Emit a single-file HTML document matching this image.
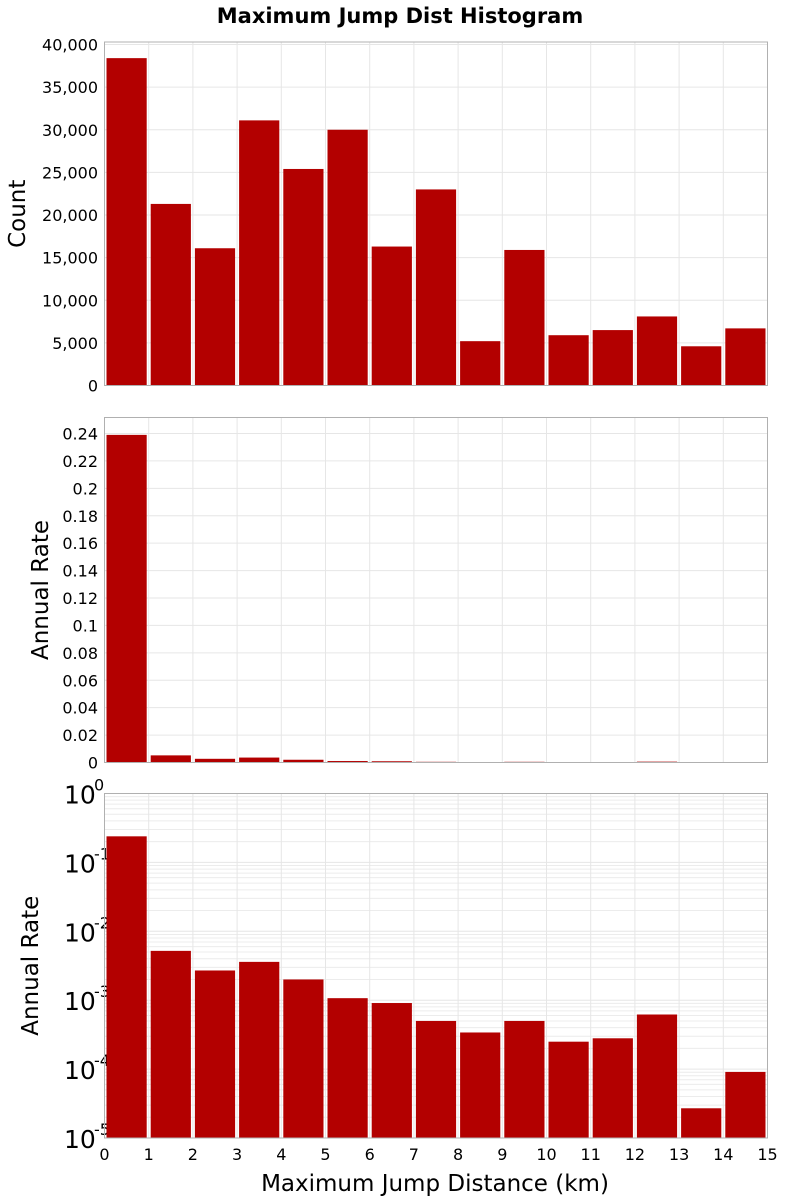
<!DOCTYPE html>
<html><head><meta charset="utf-8"><style>
body{margin:0;background:#fff}
svg{display:block;font-family:"DejaVu Sans","Liberation Sans",sans-serif}
</style></head><body>
<svg id="c" width="800" height="1200">
<text x="400" y="23" text-anchor="middle" font-size="21" font-weight="bold">Maximum Jump Dist Histogram</text>
</svg>
<script>
const bins = [0,1,2,3,4,5,6,7,8,9,10,11,12,13,14];
const counts = [38400,21300,16100,31100,25400,30000,16300,23000,5200,15900,5900,6500,8100,4600,6700];
const rates = [0.239,0.0052,0.0027,0.0036,0.002,0.00107,0.00091,0.0005,0.00034,0.0005,0.00025,0.00028,0.00062,0.000027,0.000091];
const countTicks = [0,5000,10000,15000,20000,25000,30000,35000,40000];
const rateTicks = [0,0.02,0.04,0.06,0.08,0.1,0.12,0.14,0.16,0.18,0.2,0.22,0.24];
const logTicks = [0,-1,-2,-3,-4,-5];
const xTicks = [0,1,2,3,4,5,6,7,8,9,10,11,12,13,14,15];

const NS="http://www.w3.org/2000/svg", svg=document.getElementById('c');
const X0=104.5,X1=767.5;
const xs=v=>X0+(v/15)*(X1-X0);
function el(t,a,p){const e=document.createElementNS(NS,t);for(const k in a)e.setAttribute(k,a[k]);(p||svg).appendChild(e);return e;}

function panel(name,top,bot,yscale,ticks,labelFn,vals,ylab,minor){
  const g=el('g',{});
  
  
  if(minor){ for(let d=0;d<5;d++)for(let m=2;m<10;m++){const y=yscale(Math.log10(m)-d-1);const l=el('line',{x1:X0,x2:X1,y1:y,y2:y,stroke:'#ececec','stroke-width':1},g);}}
  xTicks.forEach(v=>{const l=el('line',{x1:xs(v),x2:xs(v),y1:top,y2:bot,stroke:'#e6e6e6'},g);});
  ticks.forEach(t=>{const y=yscale(t);const l=el('line',{x1:X0,x2:X1,y1:y,y2:y,stroke:'#e6e6e6'},g);
    labelFn(t,y,g);});
  bins.forEach((b,i)=>{const v=vals[i];const y=minor?yscale(Math.log10(v)):yscale(v);
    const r=el('rect',{x:xs(b)+2,y:y,width:xs(b+1)-xs(b)-4,height:Math.max(bot-y,0),fill:'#b30000'},g);
    });
  const f=el('rect',{x:X0,y:top,width:X1-X0,height:bot-top,fill:'none',stroke:'#b0b0b0'},g);
  
  const yl=el('text',{x:0,y:0,'font-size':23,'text-anchor':'middle',transform:`translate(${ylab[1]},${(top+bot)/2}) rotate(-90)`},g);
  yl.textContent=ylab[0];
}
const yc=v=>385.5-v/40000*341;
panel('count-panel',42,385.5,yc,countTicks,(t,y,g)=>{const e=el('text',{x:98,y:y+6,'text-anchor':'end','font-size':16},g);e.textContent=t.toLocaleString('en-US');},counts,['Count',25]);
const yr=v=>762.5-v/0.24*329;
panel('rate-panel',417.5,762.5,yr,rateTicks,(t,y,g)=>{const e=el('text',{x:98,y:y+6,'text-anchor':'end','font-size':16},g);e.textContent=String(t);},rates,['Annual Rate',48]);
const yl=d=>793.5-d*68.9;
panel('log-rate-panel',793.5,1138,yl,logTicks,(t,y,g)=>{const e=el('text',{x:64,y:y+10,'font-size':25},g);e.textContent='10';
  const s=el('text',{x:94,y:y-3,'font-size':16},g);s.textContent=String(t);},rates,['Annual Rate',38],true);
xTicks.forEach(v=>{const e=el('text',{x:xs(v),y:1160,'text-anchor':'middle','font-size':16});e.textContent=String(v);
  
  });
const xt=el('text',{x:435,y:1191,'text-anchor':'middle','font-size':23});
xt.textContent='Maximum Jump Distance (km)';


</script>
</body></html>
